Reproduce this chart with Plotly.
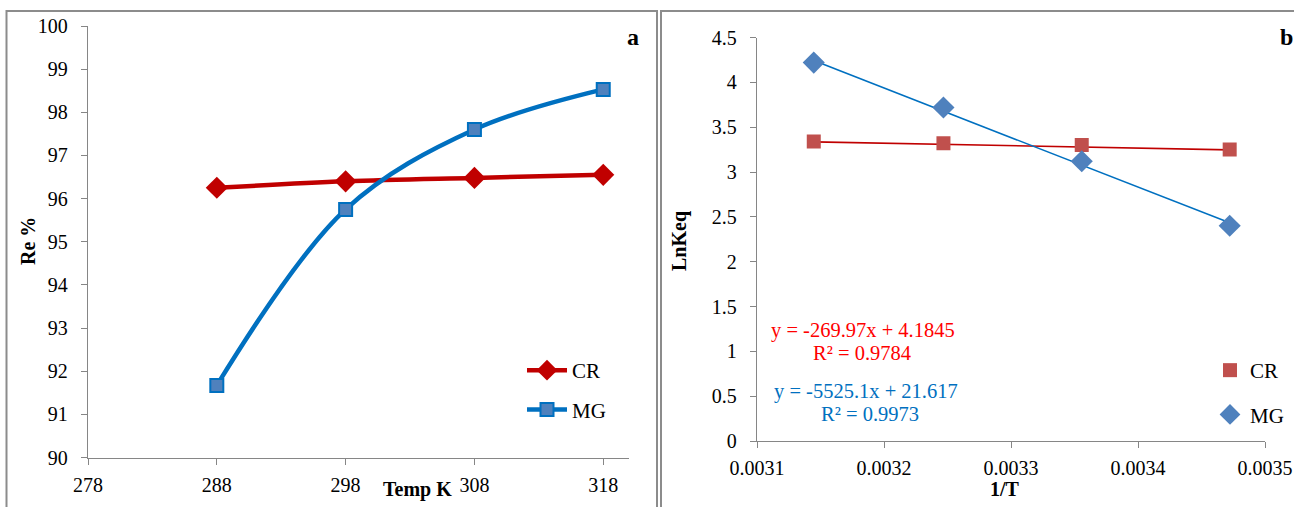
import plotly.graph_objects as go

# ---- data (panel a) ----
temps = [288, 298, 308, 318]
re_cr = [96.25, 96.40, 96.48, 96.55]
re_mg = [91.67, 95.75, 97.60, 98.53]

# ---- data (panel b) ----
inv_t = [0.0031447, 0.0032468, 0.0033557, 0.0034722]
lnk_cr = [3.34, 3.32, 3.30, 3.25]
lnk_mg = [4.22, 3.72, 3.12, 2.40]
fit_cr = (-269.97, 4.1845)
fit_mg = (-5525.1, 21.617)

FONT = "Liberation Serif"
AX = "#868686"

fig = go.Figure()

# panel a
fig.add_trace(go.Scatter(x=temps, y=re_cr, mode="lines+markers", name="CR",
                         line=dict(color="#C00000", width=4.5, shape="spline"),
                         marker=dict(symbol="diamond", size=17, color="#C00000"),
                         xaxis="x", yaxis="y", legend="legend", legendgroup="a1"))
fig.add_trace(go.Scatter(x=temps, y=re_mg, mode="lines+markers", name="MG",
                         line=dict(color="#0070C0", width=4.5, shape="spline"),
                         marker=dict(symbol="square", size=13, color="#4F81BD",
                                     line=dict(color="#0070C0", width=2)),
                         xaxis="x", yaxis="y", legend="legend", legendgroup="a2"))

# panel b trendlines
xs = [inv_t[0], inv_t[-1]]
fig.add_trace(go.Scatter(x=xs, y=[fit_cr[0] * v + fit_cr[1] for v in xs], mode="lines",
                         line=dict(color="#C00000", width=1.6), showlegend=False,
                         xaxis="x2", yaxis="y2", hoverinfo="skip"))
fig.add_trace(go.Scatter(x=xs, y=[fit_mg[0] * v + fit_mg[1] for v in xs], mode="lines",
                         line=dict(color="#0070C0", width=1.6), showlegend=False,
                         xaxis="x2", yaxis="y2", hoverinfo="skip"))
fig.add_trace(go.Scatter(x=inv_t, y=lnk_cr, mode="markers", name="CR",
                         marker=dict(symbol="square", size=14, color="#C0504D"),
                         xaxis="x2", yaxis="y2", legend="legend2", legendgroup="b1"))
fig.add_trace(go.Scatter(x=inv_t, y=lnk_mg, mode="markers", name="MG",
                         marker=dict(symbol="diamond", size=17, color="#4F81BD"),
                         xaxis="x2", yaxis="y2", legend="legend2", legendgroup="b2"))

W, H = 1294, 507
def px(x): return x / W
def py(y): return 1 - y / H

axis_common = dict(showgrid=False, zeroline=False, showline=True, linecolor=AX, linewidth=1.3,
                   ticks="outside", ticklen=6, tickcolor=AX, tickwidth=1.3, automargin=False,
                   tickfont=dict(family=FONT, size=20, color="black"))

fig.update_layout(
    template="none",
    width=W, height=H, margin=dict(l=0, r=0, t=0, b=0, pad=0),
    paper_bgcolor="white", plot_bgcolor="white",
    font=dict(family=FONT, size=20, color="black"),
    xaxis=dict(domain=[px(88), px(629)], range=[278, 320], tickvals=[278, 288, 298, 308, 318],
               anchor="y", ticklabelstandoff=3, **axis_common),
    yaxis=dict(domain=[py(457.5), py(26)], range=[90, 100], dtick=1, anchor="x",
               ticklabelstandoff=9, **axis_common),
    xaxis2=dict(domain=[px(757), px(1265)], range=[0.0031, 0.0035], dtick=0.0001,
                tickformat=".4f", anchor="y2", ticklabelstandoff=3, **axis_common),
    yaxis2=dict(domain=[py(441), py(37.5)], range=[0, 4.5], dtick=0.5, anchor="x2",
                ticklabelstandoff=9, **axis_common),
    legend=dict(x=px(522), y=py(350), xanchor="left", yanchor="top", bgcolor="rgba(0,0,0,0)",
                font=dict(family=FONT, size=21), tracegroupgap=9, itemwidth=40),
    legend2=dict(x=px(1210), y=py(350), xanchor="left", yanchor="top", bgcolor="rgba(0,0,0,0)",
                 font=dict(family=FONT, size=21), tracegroupgap=14, itemwidth=30),
    showlegend=True,
)

ann = [
    dict(text="<b>Re %</b>", x=px(28), y=py(241), textangle=-90, font=dict(size=20)),
    dict(text="<b>Temp K</b>", x=px(418), y=py(489), font=dict(size=20)),
    dict(text="<b>a</b>", x=px(633), y=py(37), font=dict(size=24)),
    dict(text="<b>LnKeq</b>", x=px(679), y=py(241), textangle=-90, font=dict(size=20)),
    dict(text="<b>1/T</b>", x=px(1005), y=py(489), font=dict(size=20)),
    dict(text="<b>b</b>", x=px(1286), y=py(37), font=dict(size=24)),
    dict(text="y = -269.97x + 4.1845", x=px(863), y=py(330), font=dict(size=20.5, color="#FF0000")),
    dict(text="R² = 0.9784", x=px(862), y=py(353), font=dict(size=20.5, color="#FF0000")),
    dict(text="y = -5525.1x + 21.617", x=px(866), y=py(391), font=dict(size=20.5, color="#0070C0")),
    dict(text="R² = 0.9973", x=px(870), y=py(414), font=dict(size=20.5, color="#0070C0")),
]
for a in ann:
    a.update(xref="paper", yref="paper", showarrow=False, xanchor="center", yanchor="middle")
    a["font"] = dict(family=FONT, **a["font"])
fig.update_layout(annotations=ann)

# panel borders
fig.add_shape(type="rect", xref="paper", yref="paper", x0=px(6.5), x1=px(657), y0=-0.05, y1=py(11),
              line=dict(color="#8C8C8C", width=2))
fig.add_shape(type="rect", xref="paper", yref="paper", x0=px(661), x1=1.05, y0=-0.05, y1=py(11),
              line=dict(color="#8C8C8C", width=2))

fig.write_html("out.html")
